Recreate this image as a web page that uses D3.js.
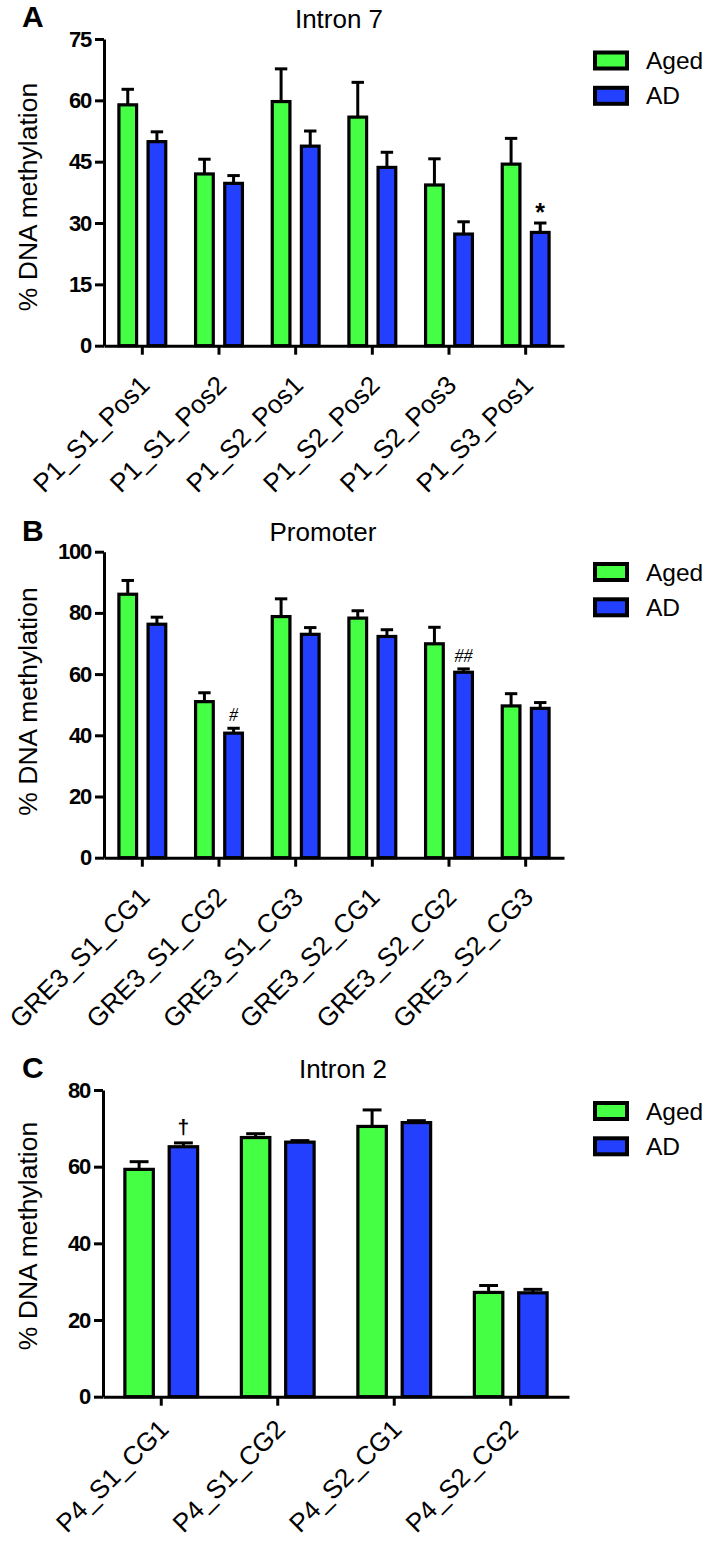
<!DOCTYPE html>
<html>
<head>
<meta charset="utf-8">
<script src="https://cdn.jsdelivr.net/npm/d3@7/dist/d3.min.js"></script>
<style>
  html, body { margin: 0; padding: 0; background: #fff; }
  svg { display: block; }
  text { font-family: "Liberation Sans", Arial, Helvetica, sans-serif; fill: #000; }
</style>
</head>
<body>
<svg id="chart" width="728" height="1542"></svg>
<script>
// ---------------- DATA ----------------
const seriesNames = ["Aged", "AD"];

// Panel A — Intron 7
const titleA = "Intron 7";
const catsA = ["P1_S1_Pos1", "P1_S1_Pos2", "P1_S2_Pos1", "P1_S2_Pos2", "P1_S2_Pos3", "P1_S3_Pos1"];
const agedA = [58.9, 42.0, 59.7, 55.9, 39.3, 44.4];
const agedSemA = [3.8, 3.6, 8.0, 8.5, 6.4, 6.3];
const adA = [49.9, 39.7, 48.8, 43.6, 27.3, 27.7];
const adSemA = [2.4, 1.9, 3.7, 3.7, 3.0, 2.3];
const ticksA = [0, 15, 30, 45, 60, 75];
const marksA = ["", "", "", "", "", "*"];

// Panel B — Promoter
const titleB = "Promoter";
const catsB = ["GRE3_S1_CG1", "GRE3_S1_CG2", "GRE3_S1_CG3", "GRE3_S2_CG1", "GRE3_S2_CG2", "GRE3_S2_CG3"];
const agedB = [86.1, 51.0, 78.8, 78.3, 69.9, 49.6];
const agedSemB = [4.5, 2.9, 5.8, 2.4, 5.4, 4.0];
const adB = [76.3, 40.7, 73.0, 72.3, 60.6, 48.8];
const adSemB = [2.3, 1.6, 2.2, 2.2, 1.1, 1.9];
const ticksB = [0, 20, 40, 60, 80, 100];
const marksB = ["", "#", "", "", "##", ""];

// Panel C — Intron 2
const titleC = "Intron 2";
const catsC = ["P4_S1_CG1", "P4_S1_CG2", "P4_S2_CG1", "P4_S2_CG2"];
const agedC = [59.3, 67.6, 70.5, 27.2];
const agedSemC = [2.0, 1.0, 4.3, 1.8];
const adC = [65.2, 66.4, 71.5, 27.1];
const adSemC = [1.0, 0.4, 0.5, 0.9];
const ticksC = [0, 20, 40, 60, 80];
const marksC = ["†", "", "", ""];

const yLabel = "% DNA methylation";
const panelLetters = ["A", "B", "C"];

// ---------------- STYLE / LAYOUT ----------------
const colors = { "Aged": "#45FF45", "AD": "#2440FF" };
const panels = [
  { letter: panelLetters[0], title: titleA, cats: catsA, aged: agedA, agedSem: agedSemA, ad: adA, adSem: adSemA, ticks: ticksA, marks: marksA,
    top: 39, bottom: 345.7, left: 104, right: 564, titleX: 339, titleY: 28, letterY: 27, legendY: 52.5, yLabelY: 197, labelDy: 41, markFont: "bold 25px 'Liberation Sans', Arial", markGap: 2 },
  { letter: panelLetters[1], title: titleB, cats: catsB, aged: agedB, agedSem: agedSemB, ad: adB, adSem: adSemB, ticks: ticksB, marks: marksB,
    top: 551.7, bottom: 857.7, left: 104, right: 564, titleX: 323, titleY: 541, letterY: 541, legendY: 564, yLabelY: 701.5, labelDy: 41, markFont: "italic 18px 'Liberation Serif', serif", markGap: 7 },
  { letter: panelLetters[2], title: titleC, cats: catsC, aged: agedC, agedSem: agedSemC, ad: adC, adSem: adSemC, ticks: ticksC, marks: marksC,
    top: 1090, bottom: 1396.7, left: 103, right: 569, titleX: 343, titleY: 1078, letterY: 1078, legendY: 1103, yLabelY: 1236, labelDy: 34, markFont: "bold 21px 'Liberation Sans', Arial", markGap: 9 }
];

const svg = d3.select("#chart");

panels.forEach(p => {
  const g = svg.append("g");
  const y = d3.scaleLinear().domain([0, d3.max(p.ticks)]).range([p.bottom, p.top]);
  const x = d3.scaleBand().domain(p.cats).range([p.left, p.right]).padding(0);
  const xi = d3.scaleBand().domain(seriesNames).range([0, x.bandwidth()]).paddingInner(0.29).paddingOuter(0.46);

  const rows = p.cats.map((c, i) => ({
    cat: c,
    vals: [
      { s: "Aged", v: p.aged[i], e: p.agedSem[i], m: "" },
      { s: "AD", v: p.ad[i], e: p.adSem[i], m: p.marks[i] }
    ]
  }));

  const bw = xi.bandwidth();
  const capW = bw * 0.6;

  const grp = g.selectAll("g.cat").data(rows).join("g")
    .attr("class", "cat")
    .attr("transform", d => `translate(${x(d.cat)},0)`);

  const item = grp.selectAll("g.bar").data(d => d.vals).join("g").attr("class", "bar");

  // error bar stems & caps (upper only)
  item.append("line")
    .attr("x1", d => xi(d.s) + bw / 2).attr("x2", d => xi(d.s) + bw / 2)
    .attr("y1", d => y(d.v)).attr("y2", d => y(d.v + d.e))
    .attr("stroke", "#000").attr("stroke-width", 3);
  item.append("line")
    .attr("x1", d => xi(d.s) + bw / 2 - capW / 2).attr("x2", d => xi(d.s) + bw / 2 + capW / 2)
    .attr("y1", d => y(d.v + d.e)).attr("y2", d => y(d.v + d.e))
    .attr("stroke", "#000").attr("stroke-width", 3);

  // bars
  item.append("rect")
    .attr("x", d => xi(d.s) + 1.5)
    .attr("width", bw - 3)
    .attr("y", d => y(d.v))
    .attr("height", d => y(0) - y(d.v))
    .attr("fill", d => colors[d.s])
    .attr("stroke", "#000").attr("stroke-width", 3.2);

  // significance marks
  item.filter(d => d.m).append("text")
    .attr("x", d => xi(d.s) + bw / 2)
    .attr("y", d => y(d.v + d.e) - p.markGap)
    .attr("text-anchor", "middle")
    .style("font", p.markFont)
    .text(d => d.m);

  // y axis
  const yAxis = g.append("g").attr("transform", `translate(${p.left},0)`)
    .call(d3.axisLeft(y).tickValues(p.ticks).tickSize(9).tickSizeOuter(0).tickPadding(4));
  yAxis.select(".domain").attr("stroke-width", 3).attr("stroke", "#000");
  yAxis.selectAll(".tick line").attr("stroke-width", 3).attr("stroke", "#000");
  yAxis.selectAll(".tick text")
    .style("font-family", "'Liberation Sans', Arial, sans-serif")
    .style("font-weight", "bold").style("font-size", "22px").style("letter-spacing", "-1.2px");

  // x axis
  const xAxis = g.append("g").attr("transform", `translate(0,${p.bottom})`)
    .call(d3.axisBottom(x).tickSize(9).tickSizeOuter(0));
  xAxis.select(".domain").attr("stroke-width", 3).attr("stroke", "#000");
  xAxis.selectAll(".tick line").attr("stroke-width", 3).attr("stroke", "#000");
  xAxis.selectAll(".tick text")
    .attr("x", 0).attr("y", 0).attr("dy", 0)
    .attr("text-anchor", "end")
    .attr("transform", `translate(9,${p.labelDy}) rotate(-45)`)
    .style("font-family", "'Liberation Sans', Arial, sans-serif")
    .style("font-size", "26px");

  // y label
  g.append("text")
    .attr("transform", `translate(37,${p.yLabelY}) rotate(-90)`)
    .attr("text-anchor", "middle")
    .style("font-size", "26.5px")
    .text(yLabel);

  // title
  g.append("text").attr("x", p.titleX).attr("y", p.titleY)
    .attr("text-anchor", "middle").style("font-size", "26px").text(p.title);

  // panel letter
  g.append("text").attr("x", 22).attr("y", p.letterY)
    .style("font-size", "30px").style("font-weight", "bold").text(p.letter);

  // legend
  const lg = g.append("g").attr("transform", `translate(595,${p.legendY})`);
  const li = lg.selectAll("g").data(seriesNames).join("g")
    .attr("transform", (d, i) => `translate(0,${i * 35.3})`);
  li.append("rect").attr("x", 0).attr("y", 0).attr("width", 32).attr("height", 16)
    .attr("fill", d => colors[d]).attr("stroke", "#000").attr("stroke-width", 4);
  li.append("text").attr("x", 51).attr("y", 16.5)
    .style("font-size", "24.5px").text(d => d);
});
</script>
</body>
</html>
